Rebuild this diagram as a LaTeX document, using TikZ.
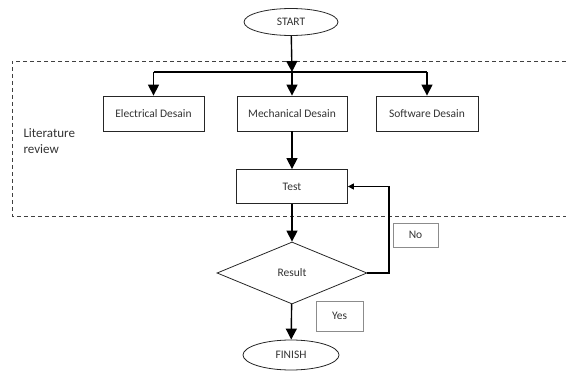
\documentclass[tikz,border=0pt]{standalone}
\usepackage{fontspec}
\setmainfont{Carlito}
\usetikzlibrary{shapes.geometric,arrows.meta}
\begin{document}
\begin{tikzpicture}[x=1pt,y=-1pt,
  every node/.style={font=\fontsize{11.5}{13}\selectfont, text=black!80},
  box/.style={draw=black!85, line width=0.8pt, rectangle, inner sep=0pt},
  term/.style={draw=black!85, line width=0.8pt, ellipse, inner sep=0pt, minimum width=94pt, minimum height=27pt},
  decision/.style={draw=black!85, line width=0.8pt, diamond, inner sep=0pt, minimum width=150pt, minimum height=62pt},
  tag/.style={draw=black!45, line width=0.6pt, rectangle, inner sep=0pt},
  flow/.style={line width=1.4pt, -{Triangle[length=11pt,width=11pt]}},
  back/.style={line width=1.4pt, -{Triangle[length=6pt,width=6pt]}},
  region/.style={draw=black!75, line width=0.8pt, dash pattern=on 4pt off 3pt}
]
\useasboundingbox (0,0) rectangle (566,372);

% dashed literature-review region (right side open past the edge)
\coordinate (r1) at (566,61);
\coordinate (r2) at (12,61);
\coordinate (r3) at (12,216);
\coordinate (r4) at (566,216);
\draw[region] (r1) -- (r2) -- (r3) -- (r4);
\node[anchor=west, align=left, font=\fontsize{13}{16}\selectfont] (lit) at (20,141) {Literature\\review};

\node[term] (start) at (291,22) {START};

\node[box, minimum width=101pt, minimum height=35pt] (elec) at (153.5,113.5) {Electrical Desain};
\node[box, minimum width=110pt, minimum height=35pt] (mech) at (292,113.5) {Mechanical Desain};
\node[box, minimum width=102pt, minimum height=35pt] (soft) at (427,113.5) {Software Desain};

\node[box, minimum width=111pt, minimum height=34pt] (test) at (292,186.5) {Test};

\node[decision] (res) at (292,273) {Result};

\node[term, minimum width=96pt, minimum height=30pt] (fin) at (291,355) {FINISH};

\node[tag, minimum width=45pt, minimum height=24pt] (no) at (415.5,235) {No};
\node[tag, minimum width=47pt, minimum height=30pt] (yes) at (339.5,316) {Yes};

% connectors
\coordinate (split) at (292,72);
\coordinate (splitL) at (153.5,72);
\coordinate (splitR) at (427,72);
\draw[flow] (start) -- (split);
\draw[line width=1.4pt] (splitL) -- (splitR);
\draw[flow] (splitL) -- (elec);
\draw[flow] (split) -- (mech);
\draw[flow] (splitR) -- (soft);
\draw[flow] (mech) -- (test);
\draw[flow] (test) -- (res);
\draw[flow] (res) -- (fin);
\coordinate (fbB) at (389,273);
\coordinate (fbT) at (389,186.5);
\draw[back] (res.east) -- (fbB) -- (fbT) -- (test.east);
\end{tikzpicture}
\end{document}
